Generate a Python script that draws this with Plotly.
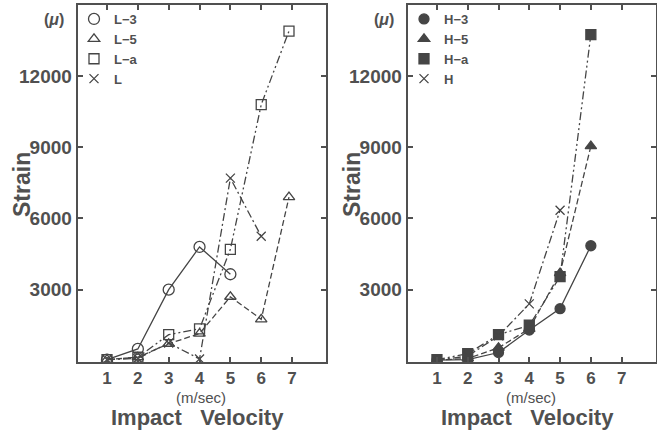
import plotly.graph_objects as go

# ---------------- data ----------------
x_L3 = [1, 2, 3, 4, 5]
y_L3 = [50, 500, 3000, 4800, 3650]
x_L5 = [1, 2, 3, 4, 5, 6, 6.9]
y_L5 = [50, 150, 720, 1150, 2700, 1750, 6900]
x_La = [1, 2, 3, 4, 5, 6, 6.9]
y_La = [50, 150, 1100, 1350, 4700, 10800, 13900]
x_L = [1, 2, 3, 4, 5, 6]
y_L = [50, 100, 750, 80, 7700, 5250]

x_H3 = [1, 2, 3, 4, 5, 6]
y_H3 = [30, 50, 350, 1300, 2200, 4850]
x_H5 = [1, 2, 3, 4, 5, 6]
y_H5 = [30, 100, 550, 1350, 3700, 9050]
x_Ha = [1, 2, 3, 4, 5, 6]
y_Ha = [50, 300, 1100, 1500, 3550, 13750]
x_H = [1, 2, 3, 4, 5]
y_H = [30, 200, 1050, 2400, 6350]

x_ticks = [1, 2, 3, 4, 5, 6, 7]
y_ticks = [3000, 6000, 9000, 12000]
y_tick_labels = ["3000", "6000", "9000", "12000"]

# ---------------- style ----------------
W, H = 657, 432
INK = "#505050"
LINE = "#454545"
FONT = "Liberation Sans, Arial, sans-serif"
DASH = "6px,3px"
DASHDOT = "8px,3px,2px,3px"
DASHDOTDOT = "8px,3px,2px,3px,2px,3px"

fig = go.Figure()

def add_series(x, y, symbol, size, dash, xa, ya):
    fig.add_trace(go.Scatter(
        x=x, y=y, mode="lines+markers", xaxis=xa, yaxis=ya, showlegend=False,
        line=dict(color=LINE, width=1.3, dash=dash),
        marker=dict(symbol=symbol, size=size, color=LINE, line=dict(color=LINE, width=1.3)),
        hoverinfo="x+y"))

def add_legend(name, symbol, size, xa, ya, leg):
    fig.add_trace(go.Scatter(
        x=[None], y=[None], mode="markers", name=name, xaxis=xa, yaxis=ya, legend=leg,
        marker=dict(symbol=symbol, size=size, color=LINE, line=dict(color=LINE, width=1.3))))

# left panel
add_series(x_L3, y_L3, "circle-open", 11, "solid", "x", "y")
add_series(x_L5, y_L5, "triangle-up-open", 10, DASH, "x", "y")
add_series(x_La, y_La, "square-open", 10, DASHDOTDOT, "x", "y")
add_series(x_L, y_L, "x-thin-open", 9, DASHDOT, "x", "y")
add_legend("L\u22123", "circle-open", 11, "x", "y", "legend")
add_legend("L\u22125", "triangle-up-open", 10, "x", "y", "legend")
add_legend("L\u2212a", "square-open", 10, "x", "y", "legend")
add_legend("L", "x-thin-open", 9, "x", "y", "legend")

# right panel
add_series(x_H3, y_H3, "circle", 10, "solid", "x2", "y2")
add_series(x_H5, y_H5, "triangle-up", 10, DASH, "x2", "y2")
add_series(x_Ha, y_Ha, "square", 10, DASHDOTDOT, "x2", "y2")
add_series(x_H, y_H, "x-thin-open", 9, DASHDOT, "x2", "y2")
add_legend("H\u22123", "circle", 10, "x2", "y2", "legend2")
add_legend("H\u22125", "triangle-up", 10, "x2", "y2", "legend2")
add_legend("H\u2212a", "square", 10, "x2", "y2", "legend2")
add_legend("H", "x-thin-open", 9, "x2", "y2", "legend2")

ydom = [1 - 362 / H, 1 - 5 / H]

def xaxis(dom, anchor):
    return dict(domain=dom, anchor=anchor, range=[0.05, 8.1], tickvals=x_ticks,
                ticks="inside", ticklen=5, tickwidth=1.5, tickcolor=INK,
                showline=True, linewidth=2, linecolor=INK, mirror="ticks",
                showgrid=False, zeroline=False,
                tickfont=dict(family=FONT, size=17, color=INK, weight="bold"))

def yaxis(anchor):
    return dict(domain=ydom, anchor=anchor, range=[-50, 15000], tickvals=y_ticks,
                ticktext=y_tick_labels,
                ticks="inside", ticklen=5, tickwidth=1.5, tickcolor=INK,
                showline=True, linewidth=2, linecolor=INK, mirror="ticks",
                showgrid=False, zeroline=False,
                tickfont=dict(family=FONT, size=19, color=INK, weight="bold"))

def legend(px, py):
    return dict(x=px / W, y=1 - py / H, xanchor="left", yanchor="top",
                bgcolor="rgba(0,0,0,0)", borderwidth=0, itemwidth=30,
                tracegroupgap=0, traceorder="normal",
                font=dict(family=FONT, size=13, color=INK, weight="bold"))

annotations = []
def txt(text, px, py, size, bold=True, angle=0):
    annotations.append(dict(
        text=text, x=px / W, y=1 - py / H, xref="paper", yref="paper",
        xanchor="center", yanchor="middle", showarrow=False, textangle=angle,
        font=dict(family=FONT, size=size, color=INK,
                  weight="bold" if bold else "normal")))

for off in (0, 330):
    txt("Strain", 22 + off, 185, 23, angle=-90)
    txt("(m/sec)", 201 + off, 397, 15, bold=False)
    txt("Impact\u00a0\u00a0\u00a0Velocity", 197 + off, 417, 22)
    txt("(<i>\u03bc</i>)", 54 + off, 20, 16)

fig.update_layout(
    width=W, height=H,
    margin=dict(l=0, r=0, t=0, b=0),
    paper_bgcolor="white", plot_bgcolor="white",
    xaxis=xaxis([77.7 / W, 326 / W], "y"),
    yaxis=yaxis("x"),
    xaxis2=xaxis([407.7 / W, 655.5 / W], "y2"),
    yaxis2=yaxis("x2"),
    legend=legend(74, 4),
    legend2=legend(404, 4),
    annotations=annotations,
    showlegend=True,
)

fig.write_html("out.html", config={"displayModeBar": False},
               post_script="document.body.style.margin='0';")
